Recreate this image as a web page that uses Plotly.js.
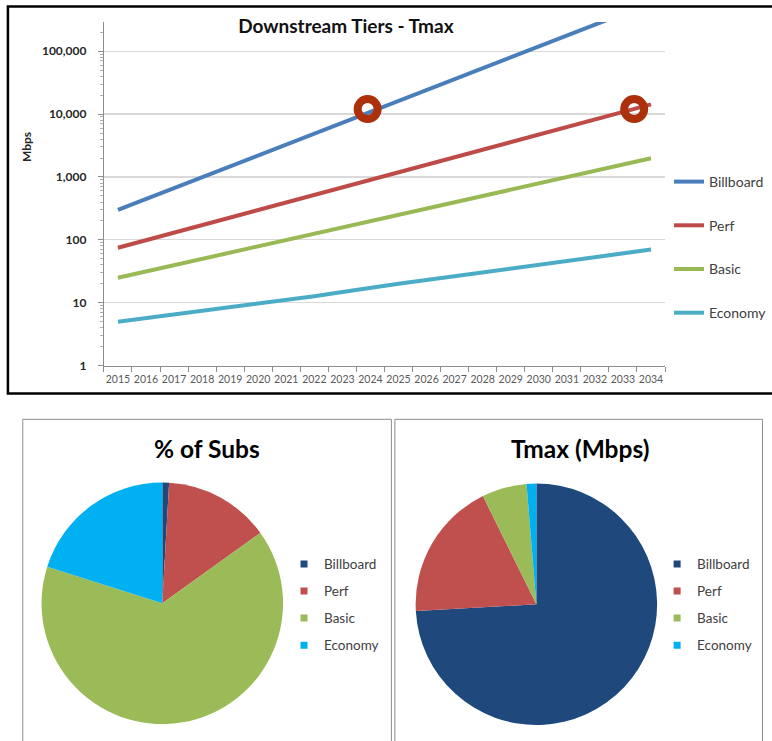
<!DOCTYPE html>
<html>
<head>
<meta charset="utf-8">
<script src="https://cdn.plot.ly/plotly-3.0.1.min.js"></script>
<style>
  html, body { margin: 0; padding: 0; background: #ffffff; }
  #chart { width: 772px; height: 741px; }
</style>
</head>
<body>
<div id="chart"></div>
<script>
// ---- Data ----
const years = [2015, 2016, 2017, 2018, 2019, 2020, 2021, 2022, 2023, 2024,
               2025, 2026, 2027, 2028, 2029, 2030, 2031, 2032, 2033, 2034];
const yearLabels = years.map(String);

const tierNames = ["Billboard", "Perf", "Basic", "Economy"];

const billboard = [300, 447, 666, 992, 1478, 2203, 3282, 4890, 7286, 10857,
                   16177, 24104, 35915, 53513, 79734, 118804, 177018, 263757, 393000, 585571];
const perf      = [75, 99, 130, 172, 226, 298, 393, 518, 683, 900,
                   1186, 1563, 2061, 2716, 3580, 4718, 6219, 8196, 10803, 14238];
const basic     = [25, 31.5, 39.6, 49.9, 62.8, 79.0, 99.5, 125, 158, 199,
                   250, 315, 396, 499, 628, 791, 996, 1253, 1578, 1987];
const economy   = [5.0, 5.7, 6.4, 7.3, 8.3, 9.5, 11.0, 12.7, 14.8, 17.5,
                   20.1, 23.1, 26.5, 30.5, 35.0, 40.2, 46.2, 53.1, 61.0, 70.1];

// highlighted points (circles)
const circleYears  = [2023.9, 2033.4];
const circleValues = [12000, 12000];

const yTickVals = [1, 10, 100, 1000, 10000, 100000];
const yTickText = ["1", "10", "100", "1,000", "10,000", "100,000"];

// pies
const subsShare  = [0.9, 14.2, 64.8, 20.1];   // % of Subs
const tmaxShare  = [74.1, 18.6, 6.0, 1.3];    // Tmax (Mbps)

// ---- Styling ----
const FONT = 'Lato, "Open Sans", "Noto Sans", sans-serif';
const lineColors = ["#4a7ebb", "#be4b48", "#98b954", "#4bacc6"];
const pieColors  = ["#1f497d", "#c0504d", "#9bbb59", "#00b0f0"];
const circleColor = "#ad300c";

const series = [billboard, perf, basic, economy];

const traces = [];
series.forEach((vals, i) => {
  traces.push({
    type: "scatter", mode: "lines",
    x: years, y: vals, name: tierNames[i],
    line: { color: lineColors[i], width: 4 },
    legend: "legend", legendgroup: "t" + i,
    xaxis: "x", yaxis: "y", hoverinfo: "x+y+name"
  });
});
traces.push({
  type: "scatter", mode: "markers",
  x: circleYears, y: circleValues, showlegend: false,
  marker: { symbol: "circle-open", size: 20, color: circleColor,
            line: { width: 8, color: circleColor } },
  xaxis: "x", yaxis: "y", hoverinfo: "skip"
});

// pies
traces.push({
  type: "pie", values: subsShare, labels: tierNames, sort: false,
  direction: "clockwise", rotation: 0, textinfo: "none",
  marker: { colors: pieColors, line: { width: 0 } },
  domain: { x: [42 / 772, 286 / 772], y: [15.7 / 741, 259.7 / 741] },
  showlegend: false, hoverinfo: "label+value"
});
traces.push({
  type: "pie", values: tmaxShare, labels: tierNames, sort: false,
  direction: "clockwise", rotation: 0, textinfo: "none",
  marker: { colors: pieColors, line: { width: 0 } },
  domain: { x: [420 / 772, 664 / 772], y: [14.7 / 741, 258.7 / 741] },
  showlegend: false, hoverinfo: "label+value"
});

// legend entries for the pies
["legend2", "legend3"].forEach((lg, k) => {
  tierNames.forEach((nm, i) => {
    traces.push({
      type: "scatter", mode: "markers", x: [null], y: [null], name: nm,
      marker: { symbol: "square", size: 7, color: pieColors[i] },
      legend: lg, legendgroup: lg + "_" + i, showlegend: true,
      xaxis: "x", yaxis: "y", hoverinfo: "skip"
    });
  });
});

const layout = {
  width: 772, height: 741,
  margin: { l: 0, r: 0, t: 0, b: 0 },
  paper_bgcolor: "#ffffff", plot_bgcolor: "rgba(0,0,0,0)",
  font: { family: FONT, color: "#404040" },
  title: {
    text: "Downstream Tiers - Tmax",
    x: 349.5 / 772, xanchor: "center", xref: "paper",
    y: 1 - 26.7 / 741, yanchor: "middle", yref: "container",
    font: { family: FONT, size: 19, color: "#111111", weight: 700 }
  },
  xaxis: {
    type: "linear", domain: [105 / 772, 672 / 772], range: [2014.5, 2034.5],
    tickmode: "array", tickvals: years, ticktext: yearLabels,
    ticks: "", ticklen: 5, ticklabelstandoff: 4, showgrid: false, zeroline: false,
    showline: true, linecolor: "#8c8c8c", linewidth: 1,
    minor: { tick0: 2014.5, dtick: 1, ticks: "outside", ticklen: 5,
             tickcolor: "#8c8c8c", showgrid: false },
    tickfont: { family: FONT, size: 10.5, color: "#595959" },
    anchor: "y", fixedrange: true
  },
  yaxis: {
    type: "log", domain: [1 - 365.7 / 741, 1 - 22 / 741], range: [0, 5.464],
    tickmode: "array", tickvals: yTickVals, ticktext: yTickText,
    ticks: "outside", ticklen: 5, tickcolor: "#8c8c8c",
    ticklabelstandoff: 9,
    minor: { dtick: "D1", ticks: "outside", ticklen: 3, tickcolor: "#b0b0b0", showgrid: false },
    showgrid: true, gridcolor: "#d9d9d9", gridwidth: 1.2, zeroline: false,
    showline: true, linecolor: "#8c8c8c", linewidth: 1,
    tickfont: { family: FONT, size: 12, color: "#262626", weight: 700 },
    anchor: "x", fixedrange: true
  },
  legend: {
    x: 676 / 772, xanchor: "left", y: 1 - 166 / 741, yanchor: "top",
    bgcolor: "rgba(0,0,0,0)", borderwidth: 0, tracegroupgap: 22.5,
    font: { family: FONT, size: 14, color: "#404040" }
  },
  legend2: {
    x: 287 / 772, xanchor: "left", y: 1 - 548.7 / 741, yanchor: "top",
    bgcolor: "rgba(0,0,0,0)", borderwidth: 0, tracegroupgap: 6.5,
    font: { family: FONT, size: 13.5, color: "#404040" }
  },
  legend3: {
    x: 664 / 772, xanchor: "left", y: 1 - 548.7 / 741, yanchor: "top",
    bgcolor: "rgba(0,0,0,0)", borderwidth: 0, tracegroupgap: 6.5,
    font: { family: FONT, size: 13.5, color: "#404040" }
  },
  annotations: [
    { text: "Mbps", textangle: -90, xref: "paper", yref: "paper",
      x: 26.7 / 772, y: 1 - 146.7 / 741, xanchor: "center", yanchor: "middle",
      showarrow: false, font: { family: FONT, size: 12, color: "#262626", weight: 700 } },
    { text: "% of Subs", xref: "paper", yref: "paper",
      x: 209.5 / 772, y: 1 - 449 / 741, xanchor: "center", yanchor: "middle",
      showarrow: false, font: { family: FONT, size: 24.5, color: "#000000", weight: 700 } },
    { text: "Tmax (Mbps)", xref: "paper", yref: "paper",
      x: 585.8 / 772, y: 1 - 449 / 741, xanchor: "center", yanchor: "middle",
      showarrow: false, font: { family: FONT, size: 24.5, color: "#000000", weight: 700 } }
  ],
  shapes: [
    { type: "rect", xref: "paper", yref: "paper", layer: "below",
      x0: 8 / 772, x1: 1.05, y0: 1 - 393.5 / 741, y1: 1 - 6.5 / 741,
      line: { color: "#000000", width: 2.5 } },
    { type: "rect", xref: "paper", yref: "paper", layer: "below",
      x0: 23 / 772, x1: 395.5 / 772, y0: -0.05, y1: 1 - 419.3 / 741,
      line: { color: "#8c8c8c", width: 1 } },
    { type: "rect", xref: "paper", yref: "paper", layer: "below",
      x0: 399 / 772, x1: 770.5 / 772, y0: -0.05, y1: 1 - 419.3 / 741,
      line: { color: "#8c8c8c", width: 1 } }
  ]
};

Plotly.newPlot("chart", traces, layout, { staticPlot: true, displayModeBar: false });
</script>
</body>
</html>
